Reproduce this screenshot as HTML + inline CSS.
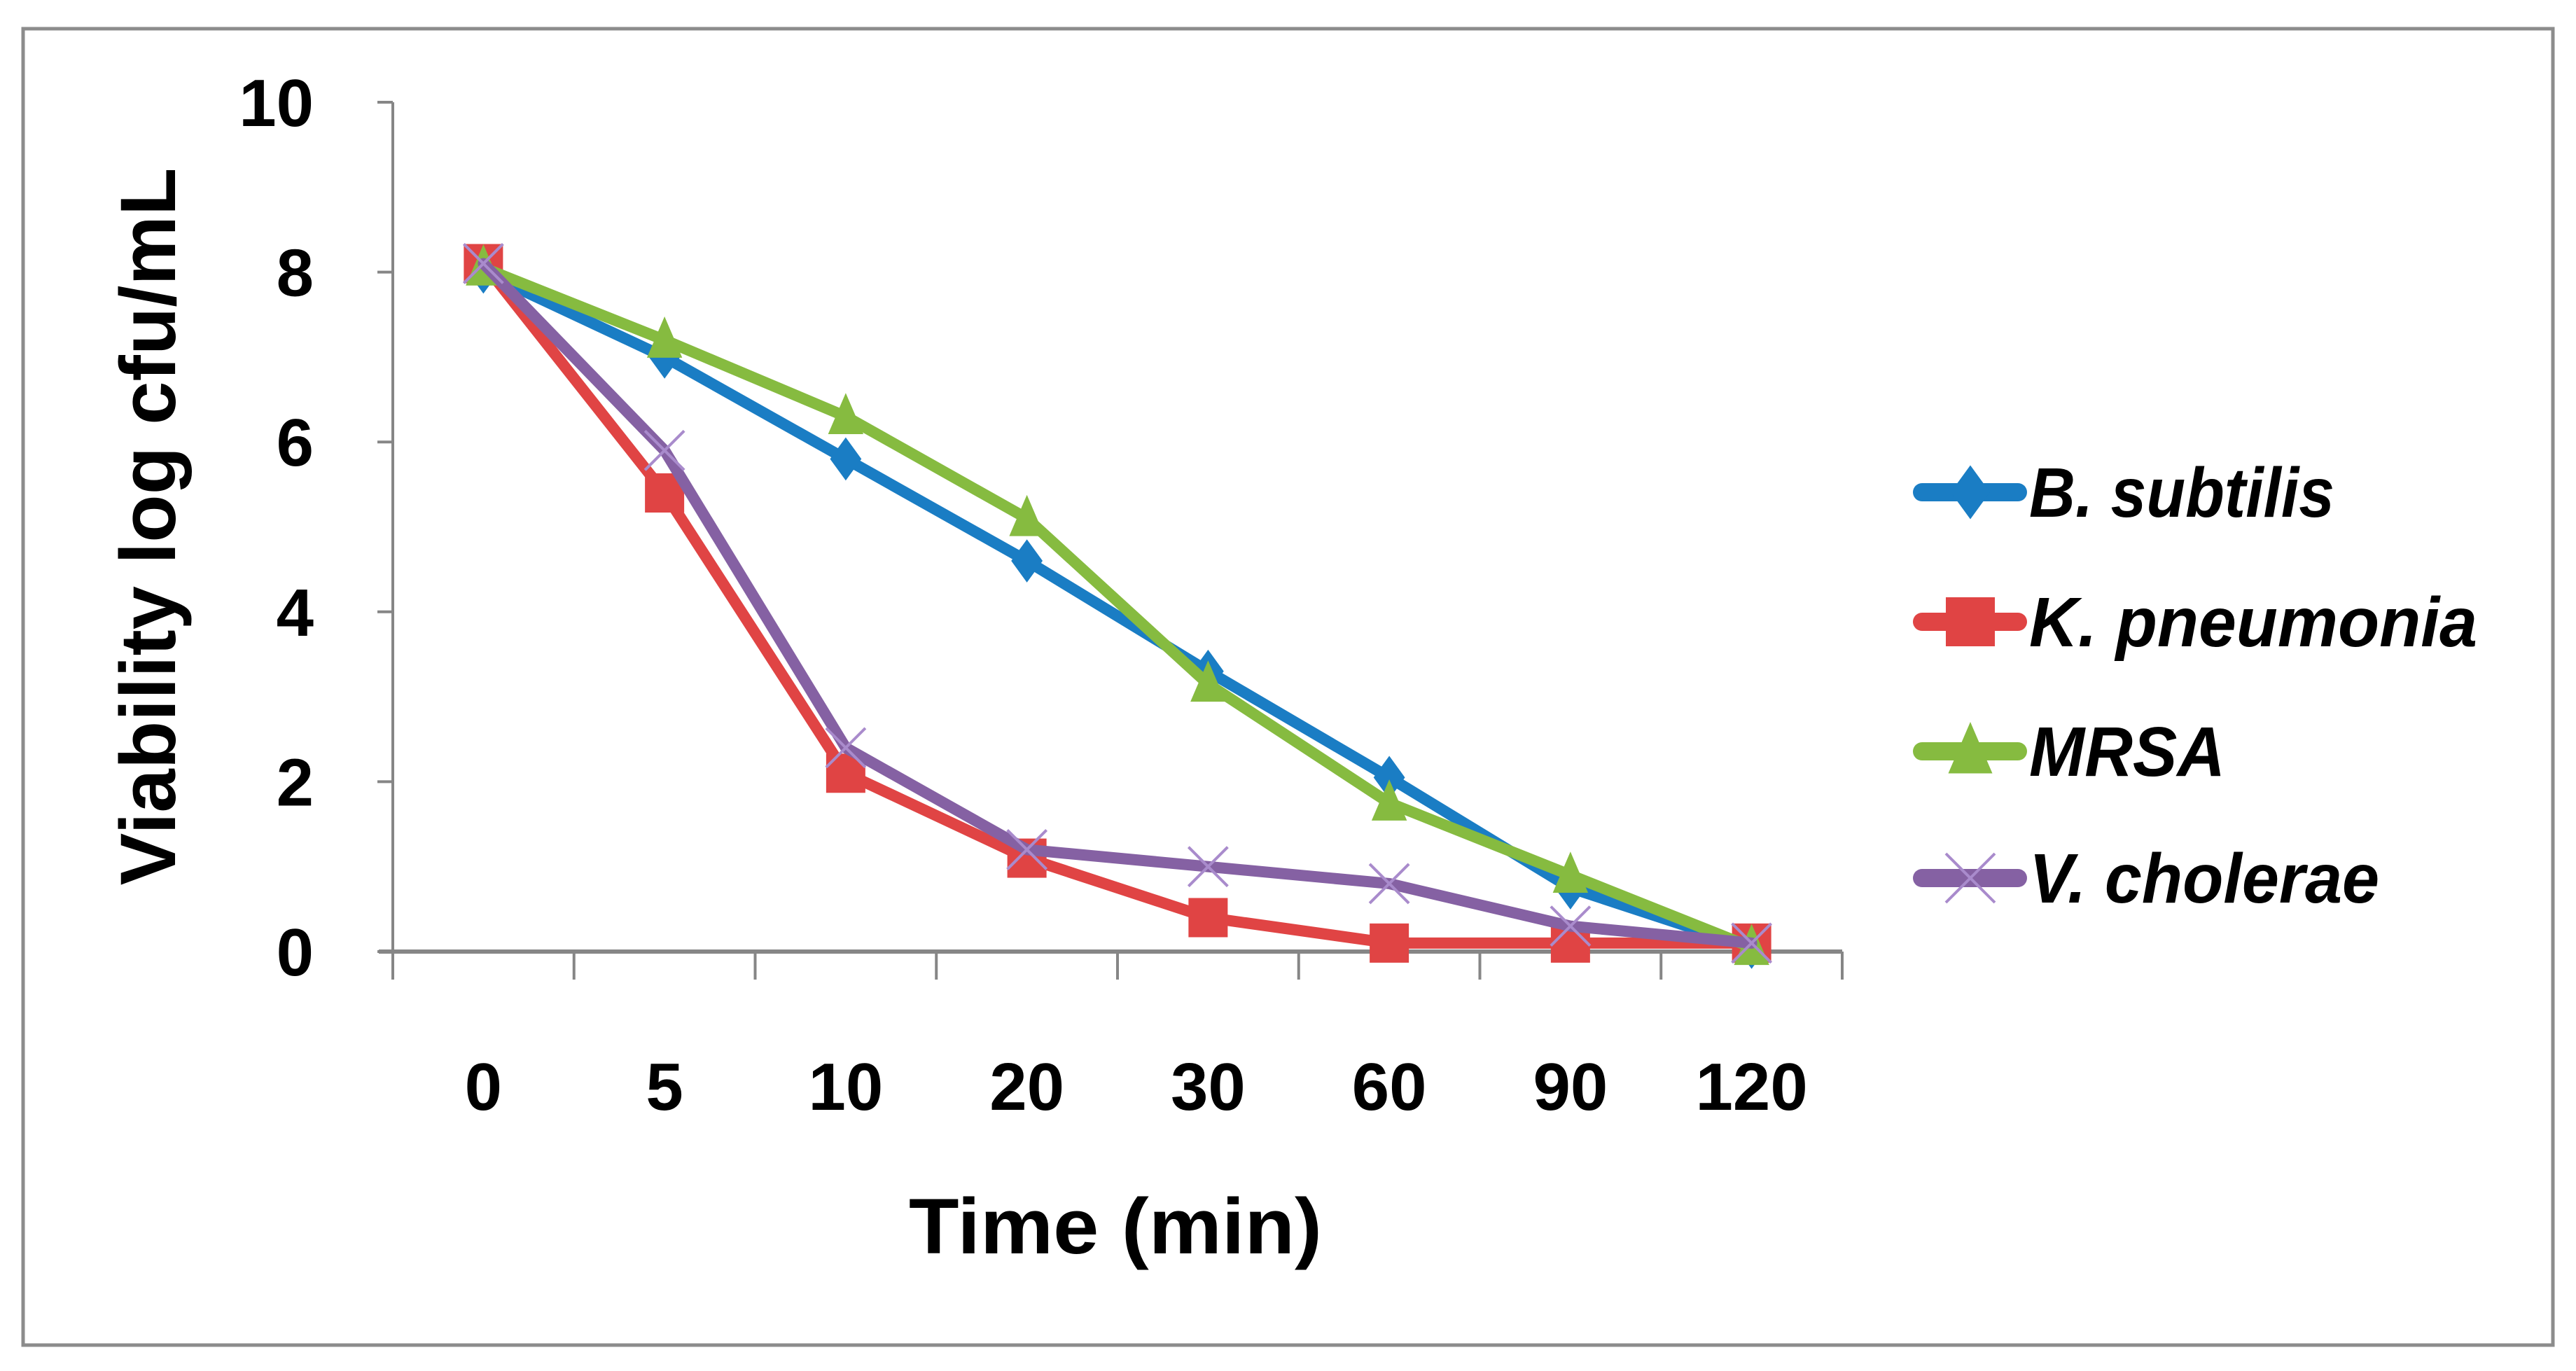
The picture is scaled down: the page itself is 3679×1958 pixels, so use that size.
<!DOCTYPE html>
<html><head><meta charset="utf-8"><style>
html,body{margin:0;padding:0;background:#fff;}
svg{display:block;}
text{font-family:"Liberation Sans",sans-serif;font-weight:bold;fill:#000;}
</style></head><body>
<svg id="chart" width="3679" height="1958" viewBox="0 0 3679 1958">
<rect x="33" y="41" width="3613" height="1880" fill="#fff" stroke="#8c8c8c" stroke-width="5"/>
<g id="axes"></g>
<g id="series"></g>
<g id="legend"></g>
<text x="0" y="0" font-size="112" text-anchor="middle" transform="translate(250,752) rotate(-90)">Viability log cfu/mL</text>
<text x="1593" y="1790" font-size="112" text-anchor="middle" textLength="590" lengthAdjust="spacingAndGlyphs">Time (min)</text>
</svg>
<script>
const categories = ["0","5","10","20","30","60","90","120"];
const yTicks = [0,2,4,6,8,10];
const seriesNames = ["B. subtilis","K. pneumonia","MRSA","V. cholerae"];
const bSubtilis = [8.0,7.0,5.8,4.6,3.3,2.05,0.75,0.05];
const kPneumonia = [8.1,5.4,2.1,1.1,0.4,0.1,0.1,0.1];
const mrsa = [8.05,7.2,6.3,5.1,3.15,1.75,0.9,0.05];
const vCholerae = [8.1,5.9,2.4,1.2,1.0,0.8,0.3,0.1];

const NS="http://www.w3.org/2000/svg";
const X0=561,X1=2631,Y0=1359,Y10=146;
const bw=(X1-X0)/categories.length;
function xs(i){return X0+bw*(i+0.5);}
function ys(v){return Y0-(v/10)*(Y0-Y10);}
function mk(tag,attrs,parent){const e=document.createElementNS(NS,tag);for(const k in attrs)e.setAttribute(k,attrs[k]);parent.appendChild(e);return e;}
const axes=document.getElementById('axes');
let yl=mk('line',{x1:X0,y1:Y10,x2:X0,y2:Y0,stroke:'#868686','stroke-width':4},axes);


yTicks.forEach(t=>{
  let l=mk('line',{x1:X0-22,y1:ys(t),x2:X0,y2:ys(t),stroke:'#868686','stroke-width':4},axes);
  
  
  let tx=mk('text',{x:448,y:ys(t)+34,'font-size':96,'text-anchor':'end'},axes);
  tx.textContent=t;
  
  
});
let xl=mk('line',{x1:X0-20,y1:Y0,x2:X1,y2:Y0,stroke:'#868686','stroke-width':6},axes);


for(let i=0;i<=categories.length;i++){
  let l=mk('line',{x1:X0+bw*i,y1:Y0,x2:X0+bw*i,y2:Y0+40,stroke:'#868686','stroke-width':4},axes);
  
  
}
categories.forEach((c,i)=>{
  let tx=mk('text',{x:xs(i),y:1585,'font-size':96,'text-anchor':'middle'},axes);
  tx.textContent=c;
  
  
});
const colors=['#1a7dc4','#e04444','#86bb40','#8561a3'];
const shapes=['diamond','square','triangle','x'];
const allData=[bSubtilis,kPneumonia,mrsa,vCholerae];
function marker(g,shape,x,y,c,s){
  let e;
  if(shape==='diamond')e=mk('polygon',{points:`${x},${y-s*0.55} ${x+s*0.4},${y} ${x},${y+s*0.55} ${x-s*0.4},${y}`,fill:c},g);
  else if(shape==='square')e=mk('rect',{x:x-s/2,y:y-s/2,width:s,height:s,fill:c},g);
  else if(shape==='triangle')e=mk('polygon',{points:`${x},${y-s*0.6} ${x+s*0.45},${y+s*0.45} ${x-s*0.45},${y+s*0.45}`,fill:c},g);
  else e=mk('path',{d:`M${x-s/2},${y-s/2}L${x+s/2},${y+s/2}M${x+s/2},${y-s/2}L${x-s/2},${y+s/2}`,stroke:'#a98bcc','stroke-width':4,fill:'none'},g);
  return e;
}
const sg=document.getElementById('series');
allData.forEach((d,si)=>{
  const g=mk('g',{},sg);
  
  
  const pts=d.map((v,i)=>xs(i)+','+ys(v)).join(' ');
  let pl=mk('polyline',{points:pts,fill:'none',stroke:colors[si],'stroke-width':16,'stroke-linejoin':'round','stroke-linecap':'round'},g);
  
  
  d.forEach((v,i)=>{
    let m=marker(g,shapes[si],xs(i),ys(v),colors[si],56);
    
    
  });
});
const lg=document.getElementById('legend');
const rows=[703,888,1073,1254];
const widths=[436,640,280,500];
seriesNames.forEach((n,si)=>{
  const g=mk('g',{},lg);
  
  
  const y=rows[si];
  mk('line',{x1:2745,y1:y,x2:2882,y2:y,stroke:colors[si],'stroke-width':26,'stroke-linecap':'round'},g);
  marker(g,shapes[si],2814,y,colors[si],70);
  const t=mk('text',{x:2898,y:y+35,'font-size':100,'font-style':'italic',textLength:widths[si],lengthAdjust:'spacingAndGlyphs'},g);
  t.textContent=n;
});
</script>
</body></html>
